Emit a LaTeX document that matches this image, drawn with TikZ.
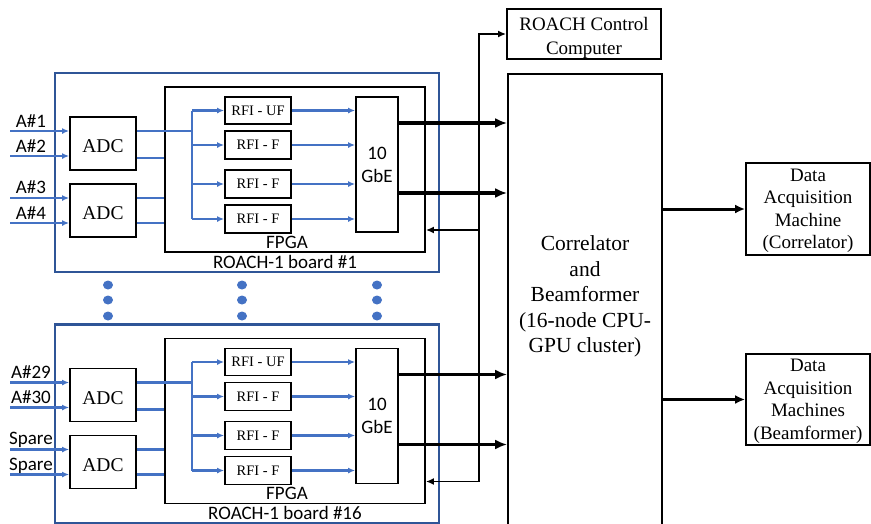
\documentclass[tikz,border=0pt]{standalone}
\usepackage{fontspec}
\setmainfont{Liberation Serif}
\newfontfamily\carl{Carlito}
\usetikzlibrary{arrows.meta}
\definecolor{wireblue}{HTML}{4472C4}
\definecolor{boardblue}{HTML}{2F5597}
\tikzset{
  blk/.style={draw=black, line width=1.8pt, inner sep=0pt, fill=white},
  bbox/.style={draw=boardblue, line width=2.2pt, inner sep=0pt},
  wire/.style={draw=wireblue, line width=2.2pt},
  warrow/.style={wire, -{Latex[length=7pt,width=6pt]}},
  thickarrow/.style={draw=black, line width=3.2pt, -{Latex[length=12pt,width=10pt]}},
  ctrl/.style={draw=black, line width=1.8pt},
  ctrlarrow/.style={ctrl, -{Latex[length=8pt,width=7pt]}},
  lab/.style={font=\carl\fontsize{19}{22}\selectfont, inner sep=0pt},
  rfi/.style={blk, minimum width=66pt, font=\fontsize{14.5}{16}\selectfont},
  adcbox/.style={blk, minimum width=66pt, minimum height=53pt, font=\fontsize{19.5}{22}\selectfont},
  txt/.style={align=center, inner sep=0pt},
}
\newcommand\lowered[1]{\raisebox{-3pt}[\height][\depth]{#1}}
\newcommand\roachboard[6]{%
\begin{scope}[shift={(0,#2)}]
  \node[bbox, minimum width=384pt, minimum height=199pt] (board#1) at (247,172.5) {};
  \node[blk, minimum width=260pt, minimum height=165pt] (fpga#1) at (295,169.5) {};
  \node[adcbox] (adca#1) at (103,143.5) {\lowered{ADC}};
  \node[adcbox] (adcb#1) at (103,210.5) {\lowered{ADC}};
  \node[rfi, minimum height=27pt] (rfia#1) at (258,110.5) {RFI - UF};
  \node[rfi, minimum height=28pt] (rfib#1) at (258,145) {RFI - F};
  \node[rfi, minimum height=28pt] (rfic#1) at (258,184) {RFI - F};
  \node[rfi, minimum height=28pt] (rfid#1) at (258,219) {RFI - F};
  \node[blk, minimum width=42pt, minimum height=135pt, align=center, font=\carl\fontsize{19}{23}\selectfont] (gbe#1) at (377,164.5) {10\\GbE};
  \node[lab, anchor=base] (fpgalab#1) at (287,248) {FPGA};
  \node[lab, anchor=base] (boardlab#1) at (285,268) {ROACH-1 board \##1};
  % inputs
  \coordinate (ina#1) at (10,131);
  \coordinate (inb#1) at (10,156);
  \coordinate (inc#1) at (10,198);
  \coordinate (ind#1) at (10,223);
  \node[lab, anchor=base] (la#1) at (31,127) {#3};
  \node[lab, anchor=base] (lb#1) at (31,152) {#4};
  \node[lab, anchor=base] (lc#1) at (31,193) {#5};
  \node[lab, anchor=base] (ld#1) at (31,219) {#6};
  \draw[warrow] (ina#1) -- (adca#1.west |- ina#1);
  \draw[warrow] (inb#1) -- (adca#1.west |- inb#1);
  \draw[warrow] (inc#1) -- (adcb#1.west |- inc#1);
  \draw[warrow] (ind#1) -- (adcb#1.west |- ind#1);
  % ADC outputs
  \coordinate (bus#1) at (192,131);
  \coordinate (oadc#1) at (192,158);
  \draw[wire] (adca#1.east |- bus#1) -- (bus#1);
  \draw[wire] (adca#1.east |- oadc#1) -- (fpga#1.west |- oadc#1);
  \draw[wire] (adcb#1.east |- inc#1) -- (fpga#1.west |- inc#1);
  \draw[wire] (adcb#1.east |- ind#1) -- (fpga#1.west |- ind#1);
  % bus
  \draw[wire] (bus#1 |- rfia#1.west) -- (bus#1 |- rfid#1.west);
  \draw[warrow] (bus#1 |- rfia#1.west) -- (rfia#1.west);
  \draw[warrow] (bus#1 |- rfib#1.west) -- (rfib#1.west);
  \draw[warrow] (bus#1 |- rfic#1.west) -- (rfic#1.west);
  \draw[warrow] (bus#1 |- rfid#1.west) -- (rfid#1.west);
  % RFI to GbE
  \draw[warrow] (rfia#1.east) -- (gbe#1.west |- rfia#1.east);
  \draw[warrow] (rfib#1.east) -- (gbe#1.west |- rfib#1.east);
  \draw[warrow] (rfic#1.east) -- (gbe#1.west |- rfic#1.east);
  \draw[warrow] (rfid#1.east) -- (gbe#1.west |- rfid#1.east);
  % GbE outputs
  \coordinate (oa#1) at (398,123);
  \coordinate (ob#1) at (398,193);
  \draw[thickarrow] (gbe#1.east |- oa#1) -- (corr.west |- oa#1);
  \draw[thickarrow] (gbe#1.east |- ob#1) -- (corr.west |- ob#1);
  % control
  \coordinate (ctl#1) at (479,230);
  \draw[ctrlarrow] (ctl#1) -- (fpga#1.east |- ctl#1);
\end{scope}}
\begin{document}
\begin{tikzpicture}[x=1pt,y=-1pt]
\useasboundingbox (0,0) rectangle (871,523);
\clip (0,0) rectangle (871,523);
% right side
\node[blk, minimum width=154pt, minimum height=50pt] (rcc) at (584,34) {};
\node[txt, font=\fontsize{19}{24}\selectfont] (rcctxt) at (584,38) {ROACH Control\\Computer};
\node[blk, minimum width=154pt, minimum height=480pt] (corr) at (585,314) {};
\node[txt, font=\fontsize{21.5}{25.5}\selectfont] (corrtxt) at (585,296.5) {Correlator\\and\\Beamformer\\(16-node CPU-\\GPU cluster)};
\node[blk, minimum width=124pt, minimum height=92pt] (da1) at (808,209) {};
\node[txt, font=\fontsize{19}{22.5}\selectfont] (da1txt) at (808,211) {Data\\Acquisition\\Machine\\(Correlator)};
\node[blk, minimum width=124pt, minimum height=91pt] (da2) at (808,399.5) {};
\node[txt, font=\fontsize{19}{22.5}\selectfont] (da2txt) at (808,401.5) {Data\\Acquisition\\Machines\\(Beamformer)};
\draw[draw=black, line width=3pt, -{Latex[length=10pt,width=9pt]}] (corr.east |- da1.west) -- (da1.west);
\draw[draw=black, line width=3pt, -{Latex[length=10pt,width=9pt]}] (corr.east |- da2.west) -- (da2.west);
% boards
\roachboard{1}{0}{A\#1}{A\#2}{A\#3}{A\#4}
\roachboard{16}{251.5}{A\#29}{A\#30}{Spare}{Spare}
% control bus
\coordinate (ctlbot) at (479,481.5);
\draw[ctrlarrow] (ctlbot) |- (rcc.west);
% dots
\foreach \dx in {108,242,377}{
  \foreach \dy in {285,300,316}{
    \fill[wireblue] (\dx,\dy) ellipse (5pt and 4.5pt);
  }
}
\end{tikzpicture}
\end{document}
